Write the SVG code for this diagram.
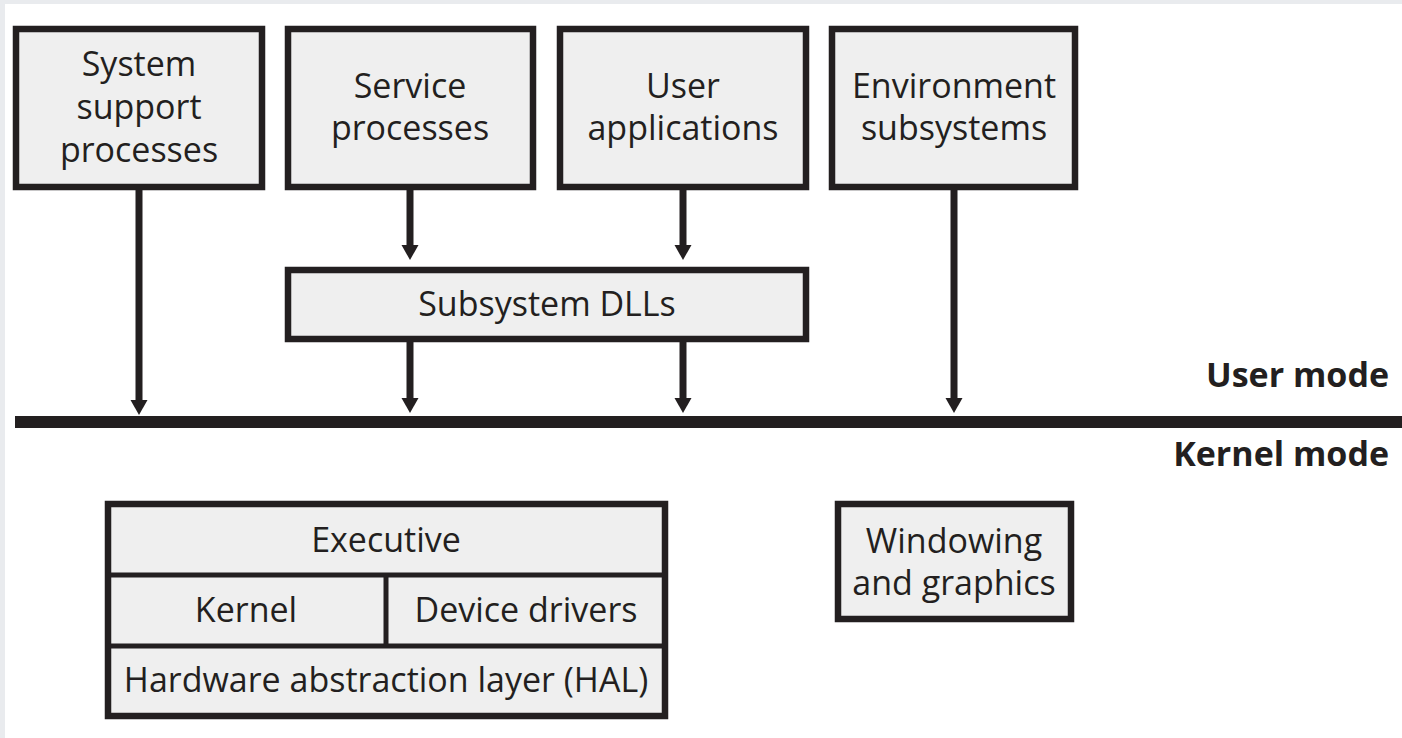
<svg xmlns="http://www.w3.org/2000/svg" width="1402" height="738" viewBox="0 0 1402 738">
<style>
.box{fill:#efefef;stroke:#231f20;stroke-width:6.5}
.sub{fill:none;stroke:#231f20;stroke-width:5}
.t{font-family:"Open Sans","Noto Sans","Liberation Sans",sans-serif;font-size:34px;fill:#231f20;text-anchor:middle}
.b{font-family:"Open Sans","Noto Sans","Liberation Sans",sans-serif;font-size:34px;font-weight:bold;fill:#231f20;text-anchor:end}
.arr{stroke:#231f20;stroke-width:7;fill:none;marker-end:url(#ah)}
</style>
<defs>
<marker id="ah" markerUnits="userSpaceOnUse" markerWidth="20" markerHeight="20" viewBox="0 -10 16 20" refX="0" refY="0" orient="auto">
<path d="M0,-8.5 L15,0 L0,8.5 z" fill="#231f20"/>
</marker>
</defs>
<rect x="0" y="0" width="1402" height="738" fill="#e9ebee"/>
<rect x="5" y="4" width="1397" height="734" fill="#ffffff"/>

<g id="system-support">
<rect class="box" x="16" y="29" width="246" height="158"/>
<text class="t" x="139" y="76">System</text>
<text class="t" x="139" y="119">support</text>
<text class="t" x="139" y="162">processes</text>
</g>
<g id="service-processes">
<rect class="box" x="288" y="29" width="245" height="158"/>
<text class="t" x="410" y="98">Service</text>
<text class="t" x="410" y="140">processes</text>
</g>
<g id="user-applications">
<rect class="box" x="560" y="29" width="246" height="158"/>
<text class="t" x="683" y="98">User</text>
<text class="t" x="683" y="140">applications</text>
</g>
<g id="environment-subsystems">
<rect class="box" x="832" y="29" width="243" height="158"/>
<text class="t" x="954" y="98">Environment</text>
<text class="t" x="954" y="140">subsystems</text>
</g>
<g id="subsystem-dlls">
<rect class="box" x="288" y="270" width="518" height="69"/>
<text class="t" x="547" y="316">Subsystem DLLs</text>
</g>
<g id="mode-boundary">
<rect x="15" y="416" width="1387" height="12" fill="#231f20"/>
<text class="b" x="1389" y="387">User mode</text>
<text class="b" x="1389" y="466">Kernel mode</text>
</g>
<g id="kernel-stack">
<rect class="box" x="108" y="504" width="557" height="212" stroke-width="7"/>
<line class="sub" x1="108" y1="575" x2="665" y2="575"/>
<line class="sub" x1="108" y1="646" x2="665" y2="646"/>
<line class="sub" x1="386" y1="575" x2="386" y2="646"/>
<text class="t" x="386" y="552">Executive</text>
<text class="t" x="246" y="622">Kernel</text>
<text class="t" x="526" y="622">Device drivers</text>
<text class="t" x="386" y="692">Hardware abstraction layer (HAL)</text>
</g>
<g id="windowing-graphics">
<rect class="box" x="838" y="504" width="233" height="115"/>
<text class="t" x="954" y="553">Windowing</text>
<text class="t" x="954" y="595">and graphics</text>
</g>
<g id="connectors">
<line class="arr" x1="139" y1="190" x2="139" y2="400"/>
<line class="arr" x1="410" y1="190" x2="410" y2="245"/>
<line class="arr" x1="683" y1="190" x2="683" y2="245"/>
<line class="arr" x1="410" y1="342" x2="410" y2="398"/>
<line class="arr" x1="683" y1="342" x2="683" y2="398"/>
<line class="arr" x1="954" y1="190" x2="954" y2="398"/>
</g>
</svg>
